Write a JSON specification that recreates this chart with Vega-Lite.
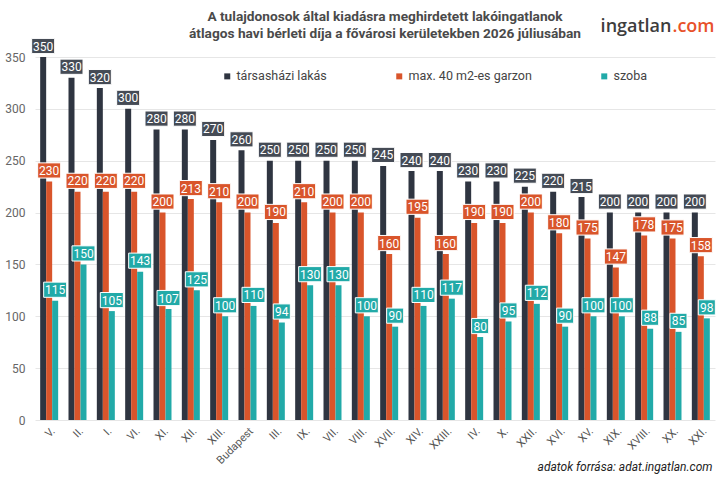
{
  "$schema": "https://vega.github.io/schema/vega-lite/v6.json",
  "width": 680,
  "height": 363,
  "autosize": {"type": "none"},
  "padding": {"left": 35, "top": 57, "right": 12, "bottom": 57},
  "background": "white",
  "title": {
    "text": ["A tulajdonosok által kiadásra meghirdetett lakóingatlanok", "átlagos havi bérleti díja a fővárosi kerületekben  2026 júliusában"],
    "font": "Roboto",
    "fontSize": 13.7,
    "fontWeight": "bold",
    "color": "#4a4a4a",
    "lineHeight": 17.5,
    "anchor": "middle",
    "dx": 10,
    "dy": 43,
    "offset": 19
  },
  "config": {
    "font": "Roboto",
    "view": {"stroke": null},
    "axis": {"labelFont": "Roboto", "titleFont": "Roboto"}
  },
  "data": {
    "values": [
      {"d": "V.", "a": 350, "b": 230, "c": 115},
      {"d": "II.", "a": 330, "b": 220, "c": 150},
      {"d": "I.", "a": 320, "b": 220, "c": 105},
      {"d": "VI.", "a": 300, "b": 220, "c": 143},
      {"d": "XI.", "a": 280, "b": 200, "c": 107},
      {"d": "XII.", "a": 280, "b": 213, "c": 125},
      {"d": "XIII.", "a": 270, "b": 210, "c": 100},
      {"d": "Budapest", "a": 260, "b": 200, "c": 110},
      {"d": "III.", "a": 250, "b": 190, "c": 94},
      {"d": "IX.", "a": 250, "b": 210, "c": 130},
      {"d": "VII.", "a": 250, "b": 200, "c": 130},
      {"d": "VIII.", "a": 250, "b": 200, "c": 100},
      {"d": "XVII.", "a": 245, "b": 160, "c": 90},
      {"d": "XIV.", "a": 240, "b": 195, "c": 110},
      {"d": "XXIII.", "a": 240, "b": 160, "c": 117},
      {"d": "IV.", "a": 230, "b": 190, "c": 80},
      {"d": "X.", "a": 230, "b": 190, "c": 95},
      {"d": "XXII.", "a": 225, "b": 200, "c": 112},
      {"d": "XVI.", "a": 220, "b": 180, "c": 90},
      {"d": "XV.", "a": 215, "b": 175, "c": 100},
      {"d": "XIX.", "a": 200, "b": 147, "c": 100},
      {"d": "XVIII.", "a": 200, "b": 178, "c": 88},
      {"d": "XX.", "a": 200, "b": 175, "c": 85},
      {"d": "XXI.", "a": 200, "b": 158, "c": 98}
    ]
  },
  "transform": [
    {"fold": ["a", "b", "c"], "as": ["key", "value"]},
    {"lookup": "key", "from": {"data": {"values": [
      {"key": "a", "series": "társasházi lakás"},
      {"key": "b", "series": "max. 40 m2-es garzon"},
      {"key": "c", "series": "szoba"}
    ]}, "key": "key", "fields": ["series"]}}
  ],
  "encoding": {
    "x": {
      "field": "d",
      "type": "nominal",
      "sort": null,
      "scale": {"paddingInner": 0.365, "paddingOuter": 0.1825},
      "axis": {
        "labelAngle": -45,
        "labelFontSize": 11,
        "labelColor": "#555555",
        "labelPadding": 5,
        "ticks": false,
        "domain": false,
        "title": "adatok forrása: adat.ingatlan.com",
        "titleFontStyle": "italic",
        "titleFontWeight": "normal",
        "titleFontSize": 12,
        "titleColor": "#222222",
        "titleX": 677,
        "titleY": 50,
        "titleAlign": "right",
        "titleBaseline": "alphabetic"
      }
    },
    "xOffset": {
      "field": "series",
      "type": "nominal",
      "scale": {"domain": ["társasházi lakás", "max. 40 m2-es garzon", "szoba"]}
    }
  },
  "layer": [
    {
      "mark": {"type": "bar"},
      "encoding": {
        "y": {
          "field": "value",
          "type": "quantitative",
          "scale": {"domain": [0, 350], "nice": false},
          "axis": {
            "values": [0, 50, 100, 150, 200, 250, 300, 350],
            "labelFontSize": 12,
            "labelColor": "#666666",
            "labelPadding": 10,
            "ticks": false,
            "domain": false,
            "gridColor": "#e6e6e6",
            "title": "ingatlan",
            "titleFont": "Open Sans",
            "titleFontSize": 18,
            "titleFontWeight": 600,
            "titleColor": "#3d3d3d",
            "titleAngle": 0,
            "titleAlign": "right",
            "titleBaseline": "alphabetic",
            "titleX": 636,
            "titleY": -26
          }
        },
        "color": {
          "field": "series",
          "type": "nominal",
          "scale": {
            "domain": ["társasházi lakás", "max. 40 m2-es garzon", "szoba"],
            "range": ["#2f3541", "#d9552b", "#22aaa8"]
          },
          "legend": {
            "title": null,
            "orient": "none",
            "direction": "horizontal",
            "legendX": 186,
            "legendY": 13,
            "padding": 0,
            "symbolType": "square",
            "symbolSize": 36,
            "symbolStrokeWidth": 0,
            "labelFontSize": 12.5,
            "labelColor": "#444444",
            "labelOffset": 3,
            "columnPadding": 66
          }
        }
      }
    },
    {
      "mark": {"type": "point", "filled": true, "size": 529, "stroke": "white", "strokeWidth": 1, "yOffset": -11, "opacity": 1},
      "encoding": {
        "y": {"field": "value", "type": "quantitative", "axis": null},
        "fill": {
          "field": "series",
          "type": "nominal",
          "scale": {
            "domain": ["társasházi lakás", "max. 40 m2-es garzon", "szoba"],
            "range": ["#454b55", "#d9552b", "#22aaa8"]
          },
          "legend": null
        },
        "shape": {
          "condition": {"test": "datum.value < 100", "value": "M-0.74,-0.66L0.74,-0.66L0.74,0.66L-0.74,0.66Z"},
          "value": "M-1,-0.66L1,-0.66L1,0.66L-1,0.66Z"
        }
      }
    },
    {
      "mark": {"type": "text", "color": "white", "fontSize": 12, "baseline": "middle", "yOffset": -10.5},
      "encoding": {
        "y": {
          "field": "value",
          "type": "quantitative",
          "axis": {
            "orient": "right",
            "labels": false,
            "ticks": false,
            "domain": false,
            "grid": false,
            "title": ".com",
            "titleFont": "Open Sans",
            "titleFontSize": 18,
            "titleFontWeight": 600,
            "titleColor": "#e8512a",
            "titleAngle": 0,
            "titleAlign": "right",
            "titleBaseline": "alphabetic",
            "titleX": -1,
            "titleY": -26
          }
        },
        "text": {"field": "value", "type": "quantitative"}
      }
    }
  ],
  "resolve": {"axis": {"y": "independent"}}
}
